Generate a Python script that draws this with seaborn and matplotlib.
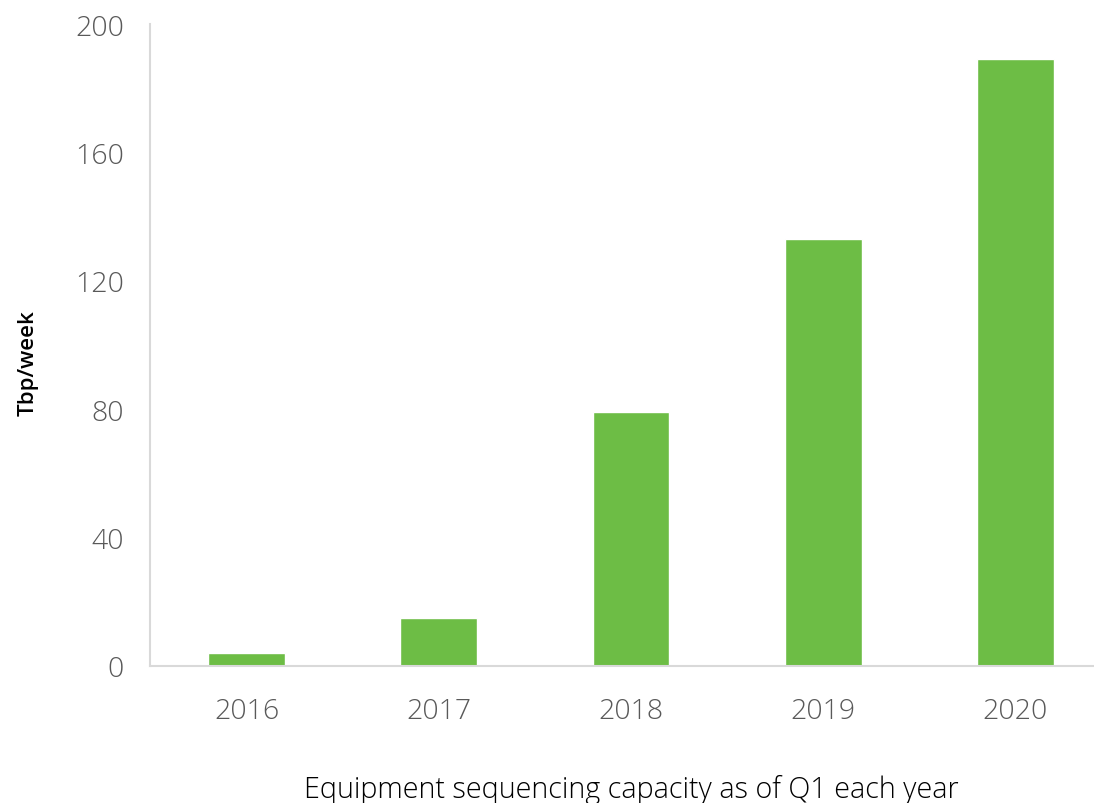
import matplotlib
matplotlib.use("Agg")
import matplotlib.pyplot as plt
import seaborn as sns
import pandas as pd

# Sequencing capacity per year (Tbp/week)
years = ["2016", "2017", "2018", "2019", "2020"]
capacity = [4, 15, 79, 133, 189]
y_ticks = [0, 40, 80, 120, 160, 200]

sns.set_style("white")
plt.rcParams["font.family"] = ["Open Sans", "DejaVu Sans"]

df = pd.DataFrame({"year": years, "capacity": capacity})

fig = plt.figure(figsize=(10.94, 8.04), dpi=100)
ax = fig.add_axes([0.1375, 0.1704, 0.8786, 0.7985])

sns.barplot(data=df, x="year", y="capacity", color="#6DBD45",
            saturation=1, width=0.4, ax=ax)

ax.set_xlim(-0.5, len(years) - 0.5)
ax.set_ylim(0, 200)
ax.set_yticks(y_ticks)
ax.tick_params(axis="both", length=0, labelsize=20.5, labelcolor="#595959")
ax.tick_params(axis="y", pad=19)
ax.tick_params(axis="x", pad=22)
for lab in ax.get_xticklabels() + ax.get_yticklabels():
    lab.set_fontweight("light")

for side in ["top", "right"]:
    ax.spines[side].set_visible(False)
for side in ["left", "bottom"]:
    ax.spines[side].set_color("#D9D9D9")
    ax.spines[side].set_linewidth(1.5)

ax.set_ylabel("Tbp/week", fontsize=16, fontweight="semibold", color="black")
ax.yaxis.set_label_coords(-0.116, 0.474)
ax.set_xlabel("Equipment sequencing capacity as of Q1 each year",
              fontsize=20.7, fontweight="light", color="black")
ax.xaxis.set_label_coords(0.5, -0.168)

fig.savefig("out.png", dpi=100)
